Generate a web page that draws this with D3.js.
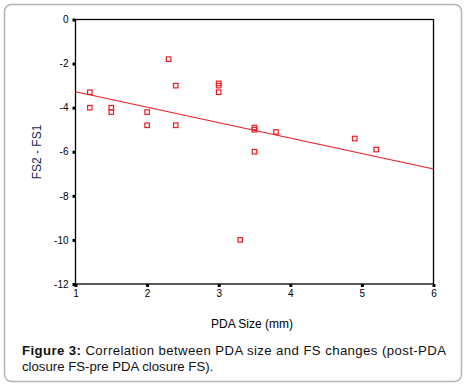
<!DOCTYPE html>
<html>
<head>
<meta charset="utf-8">
<script src="https://cdn.jsdelivr.net/npm/d3@7"></script>
<style>
  body { margin: 0; background: #fff; }
  .tick text { font-family: Arial, "Liberation Sans", sans-serif; font-size: 10px; fill: #000; }
  .tick line { stroke: #000; stroke-width: 3; }
  .domain { display: none; }
  .pt { fill: none; stroke: #ee1c24; stroke-width: 1.2; }
  .fit { stroke: #ee1c24; stroke-width: 1.1; }
  .lbl { font-family: Arial, "Liberation Sans", sans-serif; font-size: 12px; }
  .cap { font-family: Arial, "Liberation Sans", sans-serif; font-size: 13.2px; fill: #111; }
</style>
</head>
<body>
<script>
// Chart values
var pdaSize = [1.2, 1.2, 1.5, 1.5, 2.0, 2.0, 2.3, 2.4, 2.4, 3.0, 3.0, 3.0, 3.5, 3.5, 3.5, 3.8, 4.9, 5.2, 3.3];
var fsChange = [-3.3, -4.0, -4.0, -4.2, -4.2, -4.8, -1.8, -3.0, -4.8, -2.9, -3.0, -3.3, -4.9, -5.0, -6.0, -5.1, -5.4, -5.9, -10.0];
// fit line endpoints
var fitX = [1, 6];
var fitY = [-3.28, -6.78];
var xTicks = [1, 2, 3, 4, 5, 6];
var yTicks = [0, -2, -4, -6, -8, -10, -12];

var width = 468,
    height = 388;

var svg = d3.select("body")
    .append("svg")
    .attr("width", width)
    .attr("height", height);

// outer rounded frame
svg.append("rect")
    .attr("x", 4.5).attr("y", 4.5)
    .attr("width", 457).attr("height", 377)
    .attr("rx", 7)
    .attr("fill", "none")
    .attr("stroke", "#b5b5b5")
    .attr("stroke-width", 1.5);

var plotL = 75.5, plotR = 433.5, plotT = 19.5, plotB = 284;

var x = d3.scaleLinear().domain([1, 6]).range([plotL, plotR]);
var y = d3.scaleLinear().domain([0, -12]).range([plotT, plotB]);

// plain hyphen for negatives, like the original
var fmt = function(d) { return String(d); };

svg.append("g")
    .attr("transform", "translate(" + plotL + ",0)")
    .call(d3.axisLeft(y).tickValues(yTicks).tickFormat(fmt)
        .tickSizeInner(3).tickSizeOuter(0).tickPadding(4));

svg.append("g")
    .attr("transform", "translate(0," + plotB + ")")
    .call(d3.axisBottom(x).tickValues(xTicks).tickFormat(fmt)
        .tickSizeInner(3).tickSizeOuter(0).tickPadding(3));

// plot frame
svg.append("rect")
    .attr("x", plotL).attr("y", plotT)
    .attr("width", plotR - plotL).attr("height", plotB - plotT)
    .attr("fill", "none")
    .attr("stroke", "#000")
    .attr("stroke-width", 1.3);

// regression line
svg.append("line")
    .attr("class", "fit")
    .attr("x1", x(fitX[0])).attr("y1", y(fitY[0]))
    .attr("x2", x(fitX[1])).attr("y2", y(fitY[1]));

// points
var s = 4.5;
svg.selectAll(".pt")
    .data(pdaSize)
    .enter()
    .append("rect")
    .attr("class", "pt")
    .attr("x", function(d) { return x(d) - s / 2; })
    .attr("y", function(d, i) { return y(fsChange[i]) - s / 2; })
    .attr("width", s)
    .attr("height", s);

// axis titles
svg.append("text")
    .attr("class", "lbl")
    .attr("text-anchor", "middle")
    .attr("x", 252).attr("y", 328)
    .text("PDA Size (mm)");

svg.append("text")
    .attr("class", "lbl")
    .attr("text-anchor", "middle")
    .attr("fill", "#1c2a4e")
    .attr("transform", "translate(41,152) rotate(-90)")
    .text("FS2 - FS1");

// caption
var cap1 = svg.append("text")
    .attr("class", "cap")
    .attr("x", 22).attr("y", 355)
    .attr("textLength", 424)
    .attr("lengthAdjust", "spacing");
cap1.append("tspan").attr("font-weight", "bold").text("Figure 3:");
cap1.append("tspan").text(" Correlation between PDA size and FS changes (post-PDA");

svg.append("text")
    .attr("class", "cap")
    .attr("x", 22).attr("y", 371)
    .text("closure FS-pre PDA closure FS).");
</script>
</body>
</html>
